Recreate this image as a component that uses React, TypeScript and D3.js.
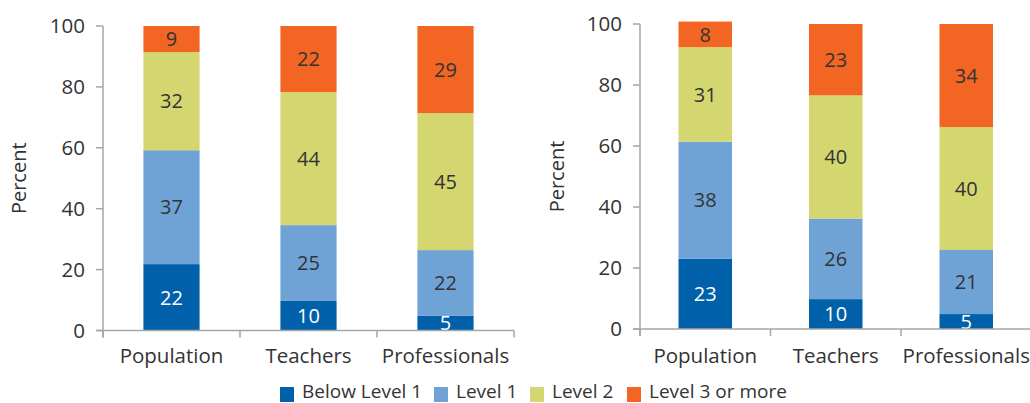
import React from "react";
import * as d3 from "d3";

const categories = ["Population", "Teachers", "Professionals"];
const seriesNames = ["Below Level 1", "Level 1", "Level 2", "Level 3 or more"];
const seriesColors = ["#0061AA", "#6FA3D6", "#D4D770", "#F26522"];
const labelColors = ["#ffffff", "#333333", "#333333", "#333333"];
const yTicks = [0, 20, 40, 60, 80, 100];

// Left panel values per category: [Below L1, L1, L2, L3+]
const leftValues = [
  [21.8, 37.4, 32.2, 8.6],
  [9.7, 24.9, 43.7, 21.7],
  [4.8, 21.6, 45.0, 28.6],
];
const leftLabels = [
  [22, 37, 32, 9],
  [10, 25, 44, 22],
  [5, 22, 45, 29],
];
// Right panel values
const rightValues = [
  [23.0, 38.4, 31.0, 8.4],
  [9.8, 26.4, 40.4, 23.4],
  [4.9, 21.0, 40.3, 33.8],
];
const rightLabels = [
  [23, 38, 31, 8],
  [10, 26, 40, 23],
  [5, 21, 40, 34],
];

const FONT = "'Open Sans', 'Noto Sans', sans-serif";
const TEXT = "#333333";
const AXIS = "#a6a6a6";

type PanelProps = {
  values: number[][];
  labels: number[][];
  x0: number;
  x1: number;
  yBottom: number;
  yTop: number;
  titleX: number;
};

function Panel({ values, labels, x0, x1, yBottom, yTop, titleX }: PanelProps) {
  const x = d3
    .scaleBand<string>()
    .domain(categories)
    .range([x0, x1])
    .paddingInner(0.59)
    .paddingOuter(0.295);
  const y = d3.scaleLinear().domain([0, 100]).range([yBottom, yTop]);
  const step = x.step();
  const rows = categories.map((c, i) => {
    const o: any = { cat: c };
    seriesNames.forEach((s, j) => (o[s] = values[i][j]));
    return o;
  });
  const stack = d3.stack<any>().keys(seriesNames)(rows);

  return (
    <g>
      {stack.map((layer, j) =>
        layer.map((d, i) => {
          const top = y(d[1]);
          const bot = y(d[0]);
          return (
            <g key={`${j}-${i}`}>
              <rect
                x={x(categories[i])!}
                y={top}
                width={x.bandwidth()}
                height={bot - top}
                fill={seriesColors[j]}
              />
              <text
                x={x(categories[i])! + x.bandwidth() / 2}
                y={(top + bot) / 2}
                dy="0.36em"
                textAnchor="middle"
                fontSize={20}
                fontFamily={FONT}
                fill={labelColors[j]}
              >
                {labels[i][j]}
              </text>
            </g>
          );
        })
      )}
      {/* y axis */}
      <line x1={x0} x2={x0} y1={yTop} y2={yBottom + 7} stroke={AXIS} strokeWidth={1.5} />
      {yTicks.map((t) => (
        <g key={t}>
          <line x1={x0 - 7} x2={x0} y1={y(t)} y2={y(t)} stroke={AXIS} strokeWidth={1.5} />
          <text
            x={x0 - 18}
            y={y(t)}
            dy="0.36em"
            textAnchor="end"
            fontSize={20.5}
            fontFamily={FONT}
            fill={TEXT}
          >
            {t}
          </text>
        </g>
      ))}
      {/* x axis */}
      <line x1={x0 - 7} x2={x1} y1={yBottom} y2={yBottom} stroke={AXIS} strokeWidth={1.5} />
      {[0, 1, 2, 3].map((k) => (
        <line
          key={k}
          x1={x0 + k * step}
          x2={x0 + k * step}
          y1={yBottom}
          y2={yBottom + 7}
          stroke={AXIS}
          strokeWidth={1.5}
        />
      ))}
      {categories.map((c) => (
        <text
          key={c}
          x={x(c)! + x.bandwidth() / 2}
          y={363}
          textAnchor="middle"
          fontSize={20.5}
          fontFamily={FONT}
          fill={TEXT}
        >
          {c}
        </text>
      ))}
      <text
        transform={`translate(${titleX},${(yTop + yBottom) / 2}) rotate(-90)`}
        dy="0.36em"
        textAnchor="middle"
        fontSize={20}
        fontFamily={FONT}
        fill={TEXT}
      >
        Percent
      </text>
    </g>
  );
}

const legendX = [280, 434, 530, 627];

export default function App() {
  return (
    <svg
      width={1030}
      height={403}
      style={{ position: "absolute", left: 0, top: 0, background: "#fff" }}
    >
      <Panel
        values={leftValues}
        labels={leftLabels}
        x0={103}
        x1={514}
        yBottom={330.5}
        yTop={26}
        titleX={19}
      />
      <Panel
        values={rightValues}
        labels={rightLabels}
        x0={640}
        x1={1031.5}
        yBottom={329}
        yTop={24}
        titleX={557}
      />
      {seriesNames.map((s, j) => (
        <g key={s}>
          <rect x={legendX[j]} y={387} width={14} height={15} fill={seriesColors[j]} />
          <text
            x={legendX[j] + 22}
            y={398}
            fontSize={19}
            fontFamily={FONT}
            fill={TEXT}
          >
            {s}
          </text>
        </g>
      ))}
    </svg>
  );
}
